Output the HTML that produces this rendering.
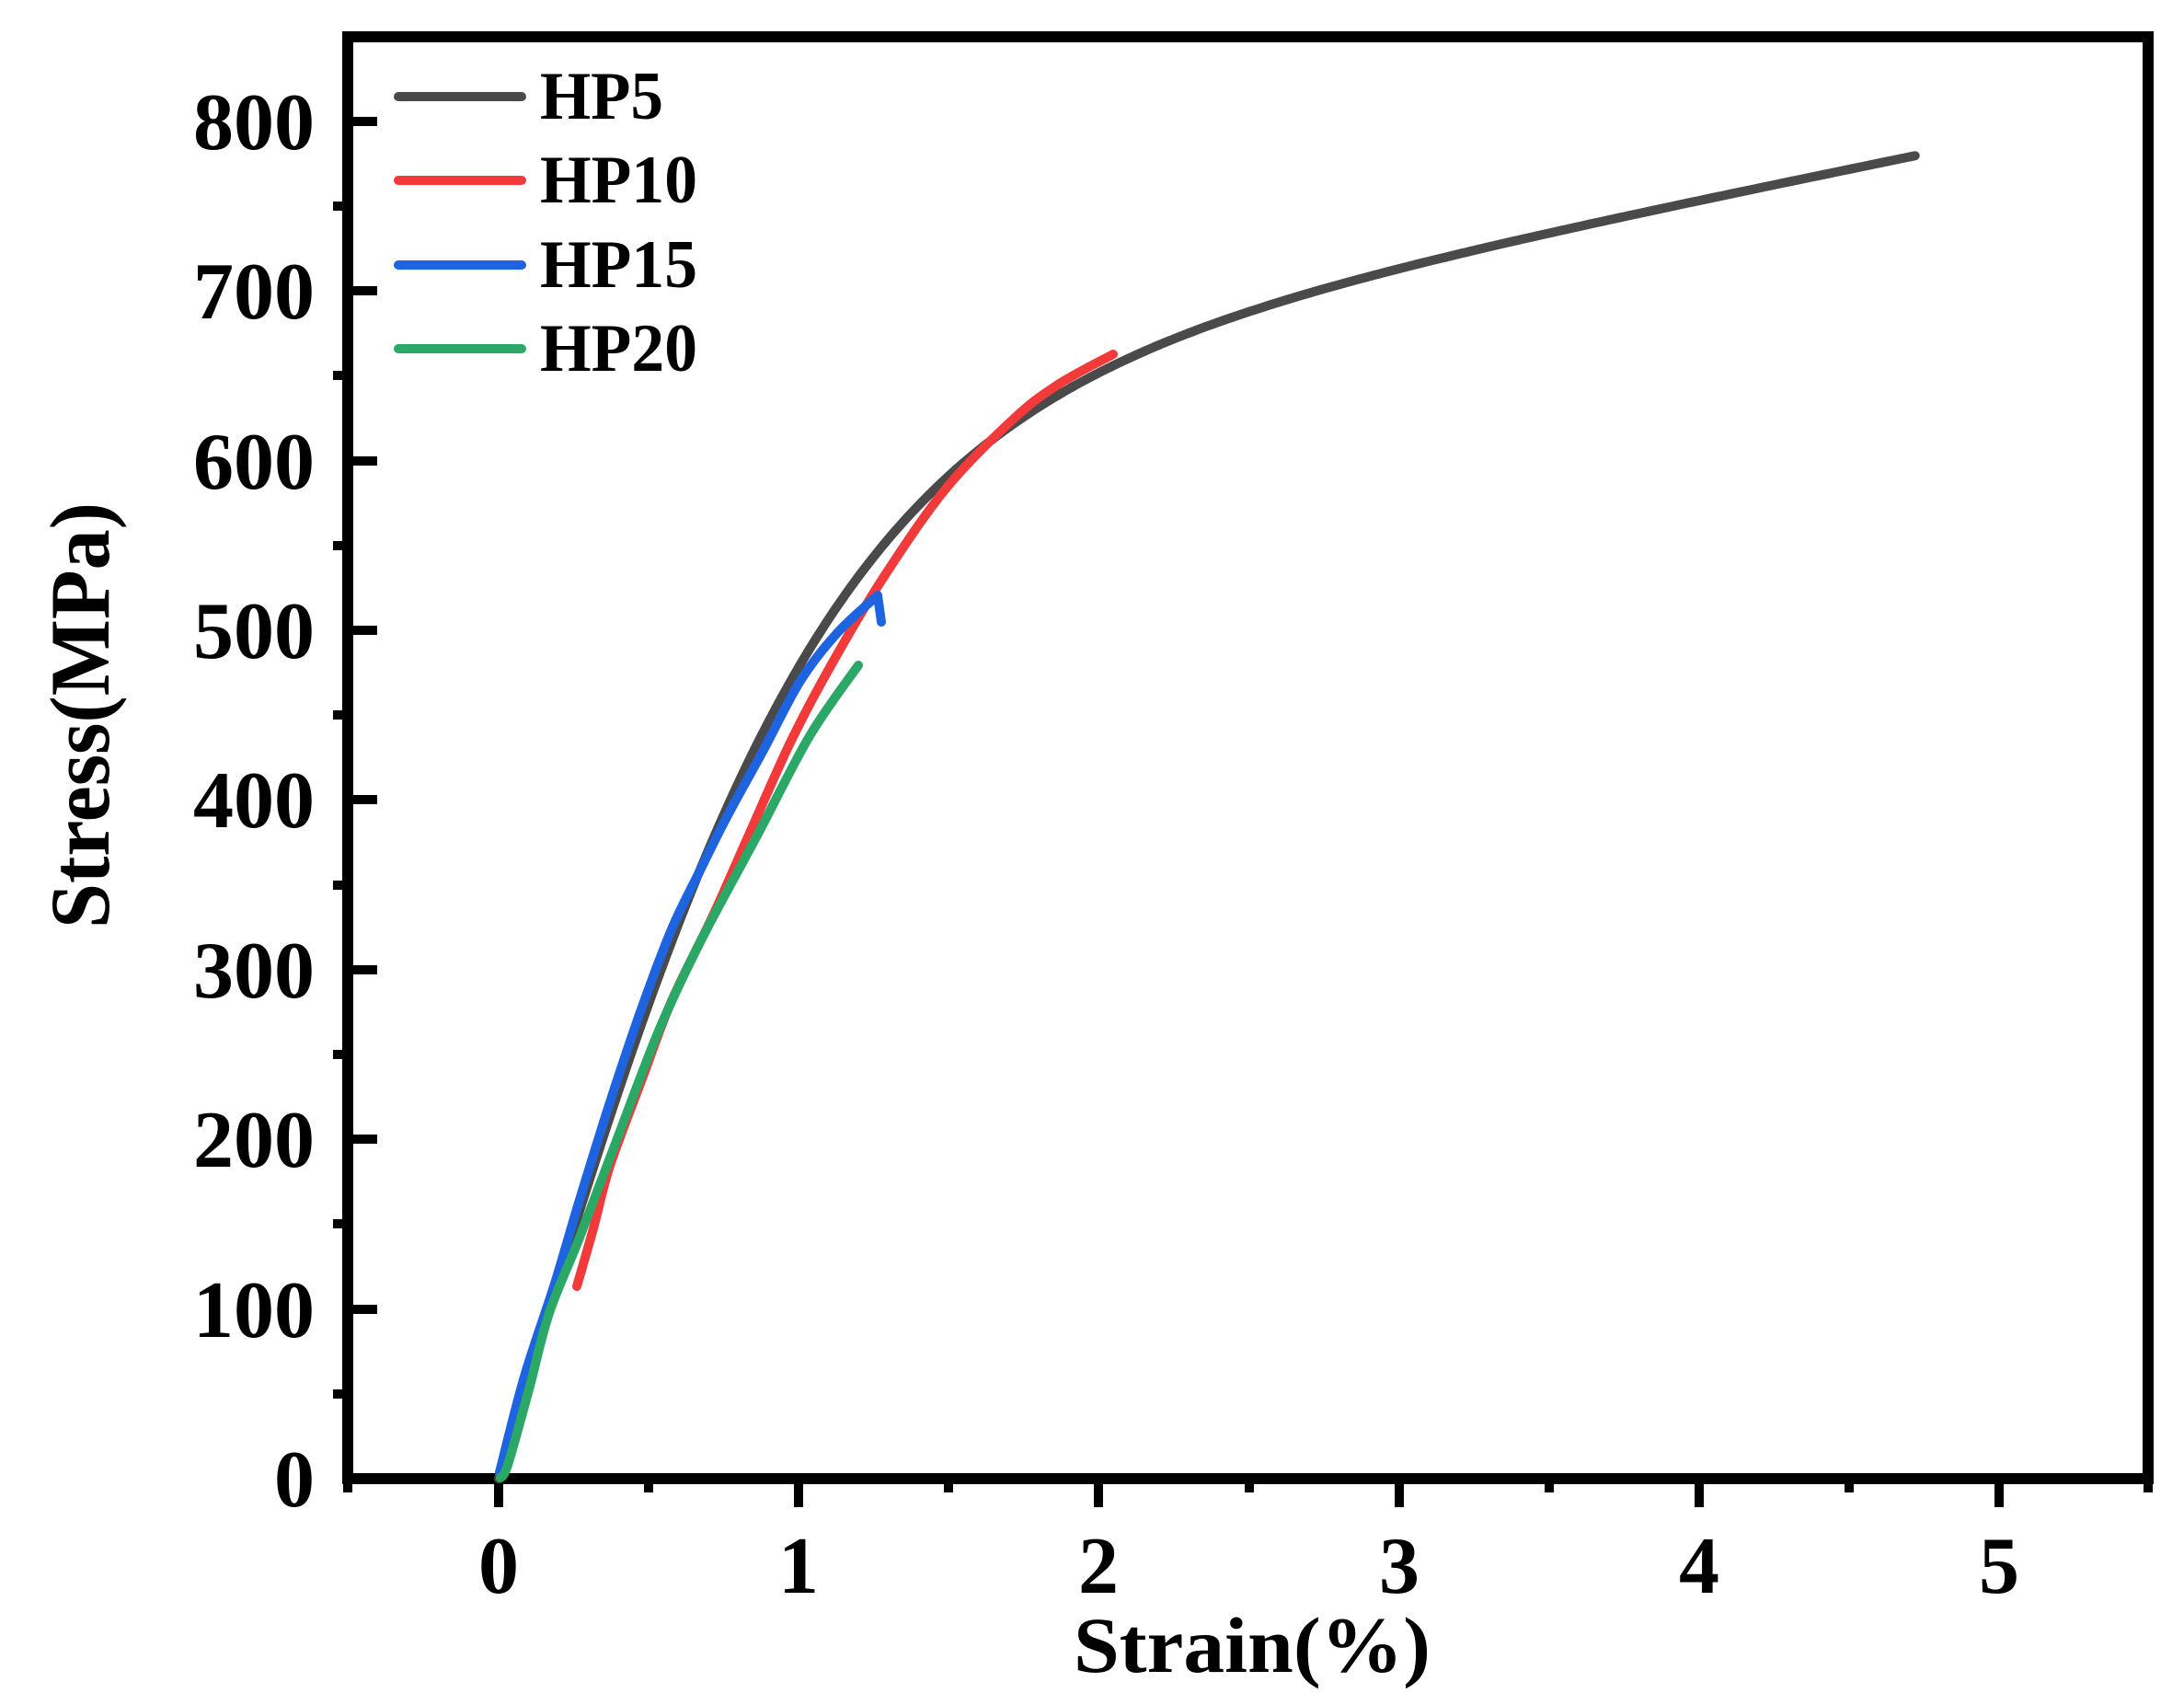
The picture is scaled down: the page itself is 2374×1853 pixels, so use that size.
<!DOCTYPE html>
<html><head><meta charset="utf-8"><style>
html,body{margin:0;padding:0;background:#fff;}
svg{display:block;}
text{font-family:"Liberation Serif",serif;font-weight:bold;fill:#000;}
</style></head><body>
<svg id="s" width="2374" height="1853" viewBox="0 0 2374 1853" xmlns="http://www.w3.org/2000/svg">
<rect width="2374" height="1853" fill="#fff"/>
<rect x="378" y="40" width="1957" height="1567" fill="none" stroke="#000" stroke-width="12"/>
<g stroke="#000" stroke-width="10">
<line x1="378" y1="1607" x2="410" y2="1607"/>
<line x1="378" y1="1423" x2="410" y2="1423"/>
<line x1="378" y1="1238" x2="410" y2="1238"/>
<line x1="378" y1="1054" x2="410" y2="1054"/>
<line x1="378" y1="869" x2="410" y2="869"/>
<line x1="378" y1="685" x2="410" y2="685"/>
<line x1="378" y1="501" x2="410" y2="501"/>
<line x1="378" y1="316" x2="410" y2="316"/>
<line x1="378" y1="132" x2="410" y2="132"/>
<line x1="362" y1="1515" x2="378" y2="1515"/>
<line x1="362" y1="1330" x2="378" y2="1330"/>
<line x1="362" y1="1146" x2="378" y2="1146"/>
<line x1="362" y1="962" x2="378" y2="962"/>
<line x1="362" y1="777" x2="378" y2="777"/>
<line x1="362" y1="593" x2="378" y2="593"/>
<line x1="362" y1="408" x2="378" y2="408"/>
<line x1="362" y1="224" x2="378" y2="224"/>
<line x1="542" y1="1607" x2="542" y2="1638"/>
<line x1="868" y1="1607" x2="868" y2="1638"/>
<line x1="1194" y1="1607" x2="1194" y2="1638"/>
<line x1="1521" y1="1607" x2="1521" y2="1638"/>
<line x1="1847" y1="1607" x2="1847" y2="1638"/>
<line x1="2173" y1="1607" x2="2173" y2="1638"/>
<line x1="705" y1="1607" x2="705" y2="1622"/>
<line x1="1031" y1="1607" x2="1031" y2="1622"/>
<line x1="1358" y1="1607" x2="1358" y2="1622"/>
<line x1="1684" y1="1607" x2="1684" y2="1622"/>
<line x1="2010" y1="1607" x2="2010" y2="1622"/>
<line x1="378" y1="1607" x2="378" y2="1622"/>
<line x1="2335" y1="1607" x2="2335" y2="1622"/>
</g>
<g font-size="88" text-anchor="end">
<text x="342" y="1637">0</text>
<text x="342" y="1453">100</text>
<text x="342" y="1268">200</text>
<text x="342" y="1084">300</text>
<text x="342" y="899">400</text>
<text x="342" y="715">500</text>
<text x="342" y="531">600</text>
<text x="342" y="346">700</text>
<text x="342" y="162">800</text>
</g>
<g font-size="88" text-anchor="middle">
<text x="542" y="1731">0</text>
<text x="868" y="1731">1</text>
<text x="1194" y="1731">2</text>
<text x="1521" y="1731">3</text>
<text x="1847" y="1731">4</text>
<text x="2173" y="1731">5</text>
</g>
<text x="1167" y="1817" font-size="86" textLength="388" lengthAdjust="spacingAndGlyphs">Strain(%)</text>
<text transform="translate(118,1009) rotate(-90)" x="0" y="0" font-size="92" textLength="463" lengthAdjust="spacingAndGlyphs">Stress(MPa)</text>
<g id="curves" fill="none" stroke-width="10" stroke-linecap="round" stroke-linejoin="round"></g>
<g stroke-width="10" stroke-linecap="round">
<line x1="433" y1="105" x2="567" y2="105" stroke="#4a4a4a"/>
<line x1="433" y1="196" x2="567" y2="196" stroke="#f23a3a"/>
<line x1="433" y1="288" x2="567" y2="288" stroke="#1e64e0"/>
<line x1="433" y1="379" x2="567" y2="379" stroke="#2ba865"/>
</g>
<g font-size="74">
<text x="587" y="129" textLength="134" lengthAdjust="spacingAndGlyphs">HP5</text>
<text x="587" y="220" textLength="171" lengthAdjust="spacingAndGlyphs">HP10</text>
<text x="587" y="312" textLength="171" lengthAdjust="spacingAndGlyphs">HP15</text>
<text x="587" y="403" textLength="171" lengthAdjust="spacingAndGlyphs">HP20</text>
</g>
</svg>
<script>
(function(){
var X=function(s){return 542+326.2*s;}, Y=function(v){return 1607-1.844*v;};
function spline(p){
  var d="M"+p[0][0].toFixed(1)+","+p[0][1].toFixed(1);
  for(var i=0;i<p.length-1;i++){
    var p0=p[i-1]||p[i],p1=p[i],p2=p[i+1],p3=p[i+2]||p[i+1];
    var c1x=p1[0]+(p2[0]-p0[0])/6,c1y=p1[1]+(p2[1]-p0[1])/6;
    var c2x=p2[0]-(p3[0]-p1[0])/6,c2y=p2[1]-(p3[1]-p1[1])/6;
    d+=" C"+c1x.toFixed(1)+","+c1y.toFixed(1)+" "+c2x.toFixed(1)+","+c2y.toFixed(1)+" "+p2[0].toFixed(1)+","+p2[1].toFixed(1);
  }
  return d;
}
var g=document.getElementById("curves"),NS="http://www.w3.org/2000/svg";
function add(d,c){var e=document.createElementNS(NS,"path");e.setAttribute("d",d);e.setAttribute("stroke",c);g.appendChild(e);}
// HP5
var gp=[];
for(var s=0;s<=4.72001;s+=0.04){var v=610*Math.tanh(560*s/610)+36*s;gp.push([X(s),Y(v)]);}
add(spline(gp),"#4a4a4a");
// HP10
add(spline([[627,1398],[645,1335],[663,1267],[697,1175],[730,1088],[775,995],[815,905],[860,805],[905,720],[960,628],[1029,530],[1102,455],[1150,418],[1210,385]]),"#f23a3a");
// HP15
var bp=[[543,1600],[570,1496],[603,1395],[630,1304],[663,1198],[697,1097],[730,1010],[760,948],[790,888],[830,815],[870,740],[910,688],[954,647]];
add(spline(bp)+" L958,676","#1e64e0");
// HP20
add(spline([[544,1606],[552,1592],[575,1510],[597,1427],[630,1345],[670,1240],[717,1118],[763,1020],[823,908],[880,800],[933,723]]),"#2ba865");
})();
</script>
</body></html>
